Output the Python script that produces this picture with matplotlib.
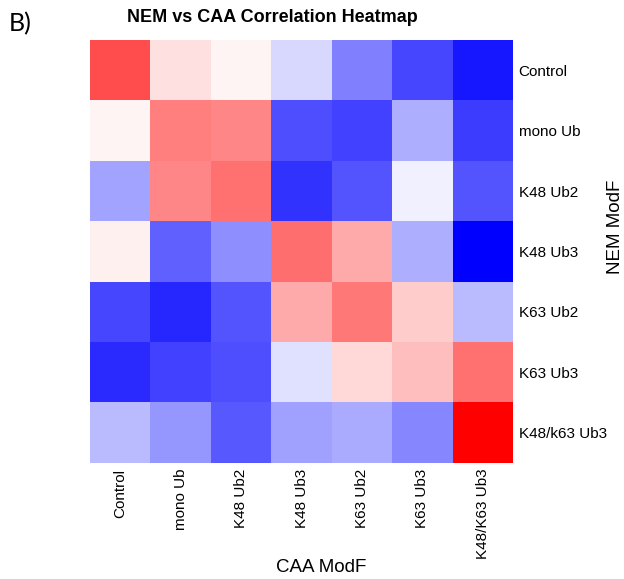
import numpy as np
import matplotlib.pyplot as plt

plt.rcParams['font.family'] = ['Liberation Sans', 'DejaVu Sans']

caa_labels = ['Control', 'mono Ub', 'K48 Ub2', 'K48 Ub3', 'K63 Ub2', 'K63 Ub3', 'K48/K63 Ub3']
nem_labels = ['Control', 'mono Ub', 'K48 Ub2', 'K48 Ub3', 'K63 Ub2', 'K63 Ub3', 'K48/k63 Ub3']

# correlation values
row_control = [0.70, 0.12, 0.04, -0.15, -0.50, -0.72, -0.91]
row_mono = [0.04, 0.50, 0.47, -0.69, -0.74, -0.32, -0.76]
row_k48ub2 = [-0.36, 0.47, 0.56, -0.80, -0.67, -0.06, -0.67]
row_k48ub3 = [0.06, -0.62, -0.44, 0.57, 0.33, -0.32, -1.00]
row_k63ub2 = [-0.72, -0.85, -0.67, 0.33, 0.53, 0.20, -0.27]
row_k63ub3 = [-0.83, -0.74, -0.69, -0.12, 0.15, 0.25, 0.56]
row_mixed = [-0.27, -0.41, -0.65, -0.37, -0.33, -0.47, 1.00]

corr = np.array([row_control, row_mono, row_k48ub2, row_k48ub3,
                 row_k63ub2, row_k63ub3, row_mixed])

W, H = 624, 579
fig = plt.figure(figsize=(W / 100, H / 100), dpi=100)
ax = fig.add_axes([90 / W, 1 - 463 / H, 423 / W, 423 / H])
ax.imshow(corr, cmap='bwr', vmin=-1, vmax=1, aspect='auto', interpolation='nearest')

ax.set_xticks(range(len(caa_labels)))
ax.set_xticklabels(caa_labels, rotation=90, fontsize=11)
ax.set_yticks(range(len(nem_labels)))
ax.set_yticklabels(nem_labels, fontsize=11)
ax.yaxis.tick_right()
ax.tick_params(length=0, pad=4)
for s in ax.spines.values():
    s.set_visible(False)

fig.text(321 / W, 1 - 568 / H, 'CAA ModF', fontsize=13.5, ha='center', va='center')
fig.text(615 / W, 1 - 227 / H, 'NEM ModF', fontsize=13.5, ha='center', va='center',
         rotation=90)
fig.text(272 / W, 1 - 18 / H, 'NEM vs CAA Correlation Heatmap', fontsize=13,
         fontweight='bold', ha='center', va='center')

fig.text(9 / W, 1 - 24 / H, 'B)', fontsize=18, family=['Lato', 'DejaVu Sans'],
         va='center')

fig.savefig('out.png')
